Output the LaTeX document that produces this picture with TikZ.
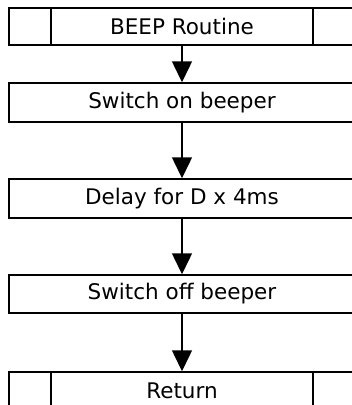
\documentclass[tikz,border=0pt]{standalone}
\usepackage{fontspec}
\setmainfont{DejaVu Sans}
\usetikzlibrary{arrows.meta}
\tikzset{
  stepbox/.style={draw=black, line width=1.5pt, rectangle, minimum width=346pt, inner sep=0pt,
    font=\fontsize{21.5pt}{26pt}\selectfont},
  subbox/.style={stepbox, path picture={
    \draw[line width=1.5pt] ([xshift=42pt]path picture bounding box.north west) -- ([xshift=42pt]path picture bounding box.south west);
    \draw[line width=1.5pt] ([xshift=-42pt]path picture bounding box.north east) -- ([xshift=-42pt]path picture bounding box.south east);}},
  flow/.style={line width=1.5pt, -{Triangle[length=21pt,width=20pt]}}
}
\begin{document}
\begin{tikzpicture}[x=1pt,y=-1pt]
\clip (0,0) rectangle (352,405);
\node[subbox, minimum height=37pt] (b1) at (182,26.5) {BEEP Routine};
\node[stepbox, minimum height=39pt] (b2) at (182,102.5) {Switch on beeper};
\node[stepbox, minimum height=39pt] (b3) at (182,198.5) {Delay for D x 4ms};
\node[stepbox, minimum height=38pt] (b4) at (182,294) {Switch off beeper};
\node[subbox, minimum height=38pt] (b5) at (182,391) {Return};
\draw[flow] (b1) -- (b2);
\draw[flow] (b2) -- (b3);
\draw[flow] (b3) -- (b4);
\draw[flow] (b4) -- (b5);
\end{tikzpicture}
\end{document}
